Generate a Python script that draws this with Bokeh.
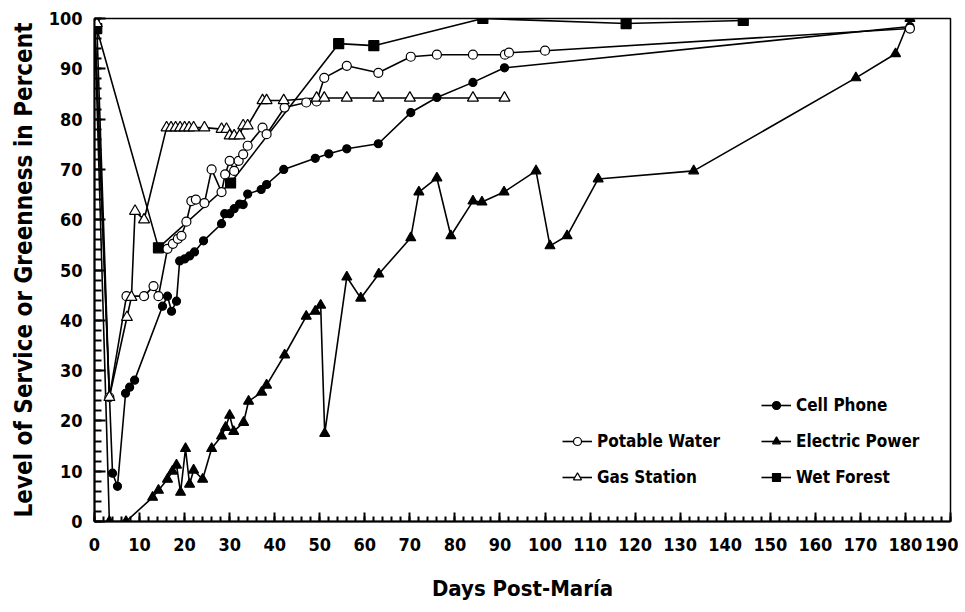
from bokeh.plotting import figure
from bokeh.models import SingleIntervalTicker, Legend, LegendItem, Range1d
from bokeh.embed import file_html
from bokeh.resources import INLINE

FONT = "DejaVu Sans Condensed"

cell_days = [0, 4, 5.1, 6.9, 7.8, 8.9, 15.1, 16.2, 17.1, 18.2, 18.9, 20, 21.1, 22.2, 24.2, 28.2, 28.9, 30, 31, 32.2,
             33, 34, 37, 38.2, 42, 49, 52, 56, 63, 70.2, 76, 84, 91, 181]
cell_vals = [100, 9.6, 7, 25.5, 26.7, 28.1, 42.8, 44.8, 41.8, 43.8, 51.8, 52.2, 52.8, 53.6, 55.8, 59.2, 61.2, 61.2, 62.2, 63.1,
             63, 65.1, 66, 67, 70, 72.2, 73.1, 74.1, 75.1, 81.3, 84.3, 87.3, 90.2, 98.4]

water_days = [0, 3.3, 7.1, 11, 13.1, 14.2, 16.2, 17.4, 18.5, 19.3, 20.4, 21.5, 22.5, 24.4, 26, 28.2, 29, 30, 31, 32,
              33, 34, 37.3, 38.2, 42.2, 47, 49.3, 51, 56, 63, 70.2, 76, 84, 91.1, 92, 100, 181]
water_vals = [100, 24.7, 44.8, 44.8, 46.8, 44.8, 54.2, 55.2, 56.2, 56.8, 59.6, 63.7, 64, 63.3, 70, 65.5, 69, 71.7, 69.7, 71.7,
              73, 74.7, 78.3, 77, 82.3, 83.3, 83.5, 88.2, 90.6, 89.2, 92.4, 92.8, 92.8, 92.8, 93.2, 93.6, 98]

gas_days = [0.5, 3.3, 7.2, 8.2, 9, 11, 16, 17, 18, 19, 20, 21, 22, 24.4, 28.2, 29.3, 30, 31, 32.2, 33,
            34, 37.3, 38.2, 42, 49.3, 51, 56, 63, 70, 84, 91]
gas_vals = [99, 24.7, 40.6, 44.6, 61.7, 60, 78.3, 78.3, 78.3, 78.3, 78.3, 78.3, 78.3, 78.3, 78, 78, 76.7, 76.7, 76.7, 78.7,
            78.7, 83.7, 83.7, 83.7, 84.2, 84.2, 84.2, 84.2, 84.2, 84.2, 84.2]

power_days = [0, 3.3, 7, 12.9, 14.2, 16.2, 17.3, 18.2, 19.1, 20.2, 21.1, 22, 24, 26, 28.2, 29.1, 30, 30.9, 33.1, 34.2,
              37.1, 38.2, 42.2, 47, 49, 50.2, 51.1, 56, 59.1, 63.1, 70.2, 72, 76, 79.1, 84, 86, 90.9, 98, 101.1, 104.9,
              111.8, 133, 169, 177.8, 181]
power_vals = [100, 0, 0, 4.8, 6.2, 8.4, 10, 11.2, 5.8, 14.5, 7.4, 10.2, 8.4, 14.5, 17, 18.7, 21.1, 17.9, 19.7, 23.9,
              25.7, 27.1, 33.1, 40.8, 41.8, 43, 17.5, 48.6, 44.4, 49.2, 56.4, 65.5, 68.3, 56.8, 63.7, 63.5, 65.5, 69.7, 54.8, 56.8,
              68.1, 69.7, 88.2, 93, 100]

forest_days = [0.5, 14.2, 30.2, 54.2, 62, 86.2, 118, 144]
forest_vals = [98, 54.4, 67.3, 95, 94.6, 100, 99, 99.6]

p = figure(width=958, height=603, output_backend="svg", toolbar_location=None,
           x_range=Range1d(0, 190), y_range=Range1d(0, 100),
           min_border_left=94, min_border_right=8, min_border_top=18, min_border_bottom=82)
p.xgrid.visible = False
p.ygrid.visible = False
p.outline_line_color = "black"
p.outline_line_width = 1.5
p.background_fill_color = "white"
p.border_fill_color = "white"

series = [
    ("Cell Phone", cell_days, cell_vals, "circle", "black", 8),
    ("Electric Power", power_days, power_vals, "triangle", "black", 10),
    ("Wet Forest", forest_days, forest_vals, "square", "black", 10),
    ("Potable Water", water_days, water_vals, "circle", "white", 9),
    ("Gas Station", gas_days, gas_vals, "triangle", "white", 11),
]

rend = {}
for name, xs, ys, mk, fill, sz in series:
    lr = p.line(xs, ys, line_color="black", line_width=1.6)
    rend[name] = [lr]
for name, xs, ys, mk, fill, sz in series:
    sr = p.scatter(xs, ys, marker=mk, size=sz, fill_color=fill, line_color="black", line_width=1.2)
    rend[name].append(sr)

for ax in (p.xaxis[0], p.yaxis[0]):
    ax.ticker = SingleIntervalTicker(interval=10, num_minor_ticks=5)
    ax.axis_line_width = 2
    ax.axis_line_color = "black"
    ax.major_tick_out = 0
    ax.minor_tick_out = 0
    ax.major_tick_line_width = 2
    ax.minor_tick_line_width = 2
    ax.major_tick_line_color = "black"
    ax.minor_tick_line_color = "black"
    ax.major_label_text_font = FONT
    ax.major_label_text_font_style = "bold"
    ax.major_label_text_font_size = "18px"
    ax.major_label_text_color = "black"
    ax.axis_label_text_font = FONT
    ax.axis_label_text_font_style = "bold"
    ax.axis_label_text_color = "black"

p.xaxis.axis_label_text_font_size = "22px"
p.yaxis.axis_label_text_font_size = "24px"
p.xaxis.major_tick_in = 9
p.xaxis.minor_tick_in = 5
p.yaxis.major_tick_in = 11
p.yaxis.minor_tick_in = 7
p.xaxis.major_label_standoff = 16
p.yaxis.major_label_standoff = 12
p.xaxis.axis_label = "Days Post-María"
p.yaxis.axis_label = "Level of Service or Greenness in Percent"
p.xaxis.axis_label_standoff = 22
p.yaxis.axis_label_standoff = 8


def make_legend(names, loc):
    lg = Legend(items=[LegendItem(label=n, renderers=rend[n]) for n in names], location=loc,
                background_fill_alpha=0, border_line_alpha=0, padding=0, margin=0,
                spacing=16, glyph_width=30, glyph_height=20, label_height=20, label_standoff=5,
                label_text_font=FONT, label_text_font_style="bold", label_text_font_size="17px",
                label_text_color="black")
    p.add_layout(lg, "center")


make_legend(["Cell Phone", "Electric Power", "Wet Forest"], (667, 34))
make_legend(["Potable Water", "Gas Station"], (468, 34))

open("out.html", "w").write(file_html(p, INLINE))
